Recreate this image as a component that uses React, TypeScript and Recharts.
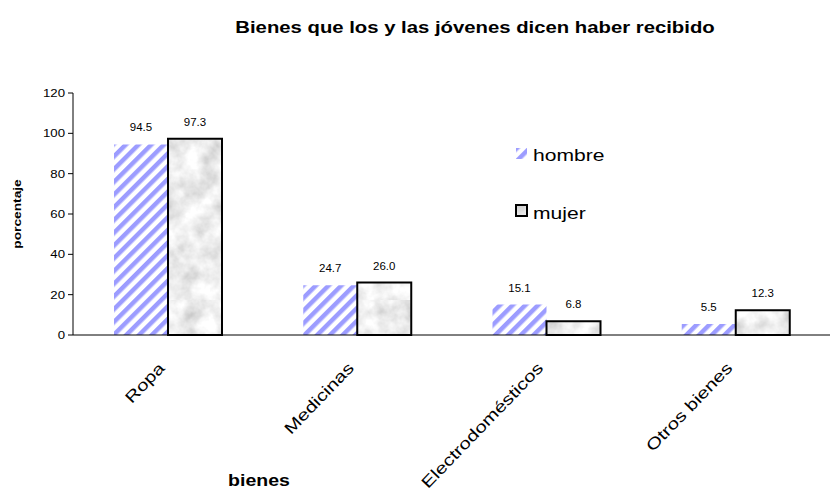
import React from 'react';
import { BarChart, Bar, XAxis, YAxis, LabelList } from 'recharts';

const categories = ['Ropa', 'Medicinas', 'Electrodomésticos', 'Otros bienes'];
const hombre = [94.5, 24.7, 15.1, 5.5];
const mujer = [97.3, 26.0, 6.8, 12.3];
const yTicks = [0, 20, 40, 60, 80, 100, 120];

const data = categories.map((name, i) => ({ name, idx: i, hombre: hombre[i], mujer: mujer[i] }));

const font = '"Liberation Sans", Arial, sans-serif';

// the original text is drawn a bit wider than Arial, so it is stretched horizontally
const CategoryTick = (props: any) => {
    const { x, y, payload } = props;
    const tx = x - 2;
    const ty = y + 34;
    return (
        <text
            x={0}
            y={0}
            textAnchor="end"
            fontSize={16}
            fontFamily={font}
            fill="#000"
            transform={`translate(${tx}, ${ty}) rotate(-46) scale(1.28, 1)`}
        >
            {payload.value}
        </text>
    );
};

const YTick = (props: any) => {
    const { x, y, payload } = props;
    return (
        <text
            x={0}
            y={0}
            textAnchor="end"
            fontSize={11}
            fontFamily={font}
            fill="#000"
            transform={`translate(${x}, ${y + 4}) scale(1.2, 1)`}
        >
            {payload.value}
        </text>
    );
};

const BarLabel = (props: any) => {
    const { x, y, width, value } = props;
    return (
        <text
            x={0}
            y={0}
            textAnchor="middle"
            fontSize={10}
            fontFamily={font}
            fill="#000"
            transform={`translate(${x + width / 2}, ${y - 13}) scale(1.15, 1)`}
        >
            {Number(value).toFixed(1)}
        </text>
    );
};

const Overlay = () => (
    <svg width={830} height={494} style={{ position: 'absolute', left: 0, top: 0, pointerEvents: 'none' }}>
        <text
            x={0}
            y={0}
            textAnchor="middle"
            fontSize={16}
            fontWeight="bold"
            fontFamily={font}
            fill="#000"
            transform="translate(475, 33) scale(1.27, 1)"
        >
            Bienes que los y las jóvenes dicen haber recibido
        </text>
        <text
            x={0}
            y={0}
            textAnchor="middle"
            fontSize={16}
            fontWeight="bold"
            fontFamily={font}
            fill="#000"
            transform="translate(259, 486) scale(1.22, 1)"
        >
            bienes
        </text>
        <text
            x={0}
            y={0}
            textAnchor="middle"
            fontSize={11}
            fontWeight="bold"
            fontFamily={font}
            fill="#000"
            transform="translate(21, 214) rotate(-90) scale(1.25, 1)"
        >
            porcentaje
        </text>
        <rect x={516} y={148} width={11} height={11} fill="url(#hatch)" />
        <text x={0} y={0} fontSize={17} fontFamily={font} fill="#000" transform="translate(533, 161) scale(1.24, 1)">
            hombre
        </text>
        <rect x={516} y={205} width={11} height={11} fill="url(#marble)" stroke="#000" strokeWidth={2} />
        <text x={0} y={0} fontSize={17} fontFamily={font} fill="#000" transform="translate(533, 219) scale(1.24, 1)">
            mujer
        </text>
    </svg>
);

export default function App() {
    return (
        <div style={{ position: 'absolute', left: 0, top: 0, width: 830, height: 494, background: '#fff', fontFamily: font }}>
            <BarChart
                width={830}
                height={494}
                data={data}
                margin={{ top: 93, right: 0, bottom: 59, left: 13 }}
                barGap={0}
                barSize={54}
            >
                <defs>
                    <pattern id="hatch" patternUnits="userSpaceOnUse" width={9} height={9} patternTransform="rotate(45)">
                        <rect x={0} y={0} width={9} height={9} fill="#fff" />
                        <rect x={0} y={0} width={4.5} height={9} fill="#9c9cff" />
                    </pattern>
                    <filter id="noise" x="0" y="0" width="100%" height="100%">
                        <feTurbulence type="fractalNoise" baseFrequency="0.05" numOctaves={4} seed={7} />
                        <feColorMatrix
                            type="matrix"
                            values="0.7 0 0 0 0.5  0.7 0 0 0 0.5  0.7 0 0 0 0.5  0 0 0 0 1"
                        />
                    </filter>
                    <pattern id="marble" patternUnits="userSpaceOnUse" width={300} height={300}>
                        <rect x={0} y={0} width={300} height={300} fill="#ddd" filter="url(#noise)" />
                    </pattern>
                </defs>
                <XAxis
                    xAxisId="edges"
                    type="number"
                    dataKey="idx"
                    domain={[0, 4]}
                    ticks={[0, 1, 2, 3]}
                    height={0}
                    axisLine={false}
                    tickLine={{ stroke: '#000' }}
                    tickSize={6}
                    tickFormatter={() => ''}
                    allowDataOverflow
                />
                <XAxis
                    xAxisId="cat"
                    dataKey="name"
                    axisLine={{ stroke: '#000' }}
                    tickLine={false}
                    tickSize={0}
                    tickMargin={0}
                    interval={0}
                    tick={<CategoryTick />}
                    height={100}
                />
                <YAxis
                    domain={[0, 120]}
                    ticks={yTicks}
                    width={60}
                    axisLine={{ stroke: '#000' }}
                    tickLine={{ stroke: '#000' }}
                    tickSize={5}
                    tickMargin={3}
                    tick={<YTick />}
                />
                <Bar xAxisId="cat" dataKey="hombre" fill="url(#hatch)" isAnimationActive={false}>
                    <LabelList dataKey="hombre" content={<BarLabel />} />
                </Bar>
                <Bar xAxisId="cat" dataKey="mujer" fill="url(#marble)" stroke="#000" strokeWidth={2} isAnimationActive={false}>
                    <LabelList dataKey="mujer" content={<BarLabel />} />
                </Bar>
            </BarChart>
            <Overlay />
        </div>
    );
}
